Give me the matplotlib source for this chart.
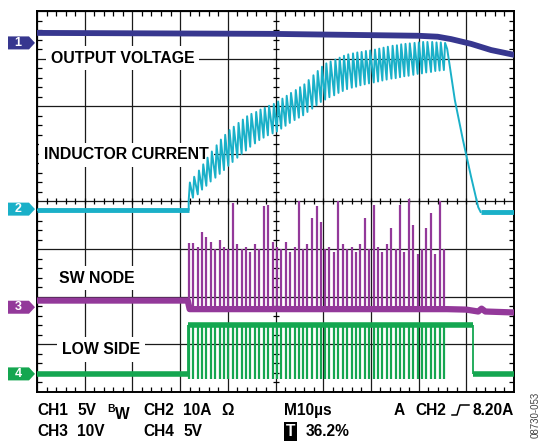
import numpy as np
import matplotlib.pyplot as plt
from matplotlib.patches import Polygon
from matplotlib.lines import Line2D
from matplotlib.ticker import MultipleLocator
from matplotlib.transforms import blended_transform_factory

plt.rcParams['font.family'] = ['Liberation Sans', 'DejaVu Sans']

# scope screen: 10 div x 10 us, 8 div vertical (centre = 0)
W, H = 542, 441

# channel reference markers (div) and colours
marker_level = [3.33, -0.16, -2.22, -3.62]
marker_name = ['1', '2', '3', '4']
colors = ['#37378f', '#1ab0c8', '#93399a', '#14a650']

# CH1 output voltage (div)
vout_t = [0, 49.0, 79.9, 84.0, 86.8, 91.0, 95.2, 100]
vout_v = [3.54, 3.52, 3.48, 3.46, 3.41, 3.31, 3.18, 3.08]

# switching instants (us)
sw_t = [31.8, 32.7, 33.7, 34.6, 35.5, 36.4, 37.4, 38.3, 39.2, 40.1,
        41.0, 42.0, 42.9, 43.8, 44.7, 45.7, 46.6, 47.5, 48.4, 49.4,
        50.3, 51.2, 52.1, 53.0, 54.0, 54.9, 55.8, 56.7, 57.7, 58.6,
        59.5, 60.4, 61.3, 62.3, 63.2, 64.1, 65.0, 66.0, 66.9, 67.8,
        68.7, 69.6, 70.6, 71.5, 72.4, 73.3, 74.3, 75.2, 76.1, 77.0,
        77.9, 78.9, 79.8, 80.7, 81.6, 82.6, 83.5, 84.4, 85.3]

# CH2 inductor current, valley / peak of each cycle (div)
il_valley = [0.02, 0.08, 0.15, 0.25, 0.33, 0.42, 0.50, 0.58, 0.66, 0.75,
             0.83, 0.92, 1.00, 1.07, 1.15, 1.22, 1.29, 1.34, 1.39, 1.43,
             1.47, 1.53, 1.59, 1.65, 1.71, 1.76, 1.81, 1.88, 1.95, 2.02,
             2.09, 2.14, 2.19, 2.23, 2.28, 2.32, 2.36, 2.39, 2.41, 2.44,
             2.46, 2.48, 2.50, 2.52, 2.54, 2.56, 2.58, 2.59, 2.61, 2.63,
             2.64, 2.66, 2.68, 2.69, 2.71, 2.72, 2.74, 2.75, 2.76]
il_peak = [0.40, 0.52, 0.65, 0.78, 0.92, 1.05, 1.18, 1.30, 1.40, 1.50,
           1.57, 1.65, 1.72, 1.79, 1.84, 1.88, 1.93, 1.97, 2.01, 2.05,
           2.10, 2.16, 2.22, 2.28, 2.34, 2.40, 2.46, 2.55, 2.65, 2.74,
           2.83, 2.90, 2.94, 2.98, 3.02, 3.06, 3.09, 3.11, 3.13, 3.14,
           3.16, 3.17, 3.19, 3.21, 3.23, 3.25, 3.27, 3.28, 3.30, 3.31,
           3.32, 3.33, 3.34, 3.35, 3.35, 3.35, 3.34, 3.34, 3.33]
il_pre = -0.18
il_tail_t = [86.0, 87.6, 89.3, 91.0, 92.5, 93.0, 100]
il_tail_v = [3.20, 2.13, 1.29, 0.52, -0.12, -0.22, -0.22]
t_rise = 0.25

# CH3 switch node (div)
sw_top = [-0.87, -0.87, -0.95, -0.64, -0.75, -0.85, -1.00, -0.80, -0.95, -1.00,
          -0.03, -0.90, -1.00, -0.95, -1.05, -0.90, -1.00, -0.10, -0.08, -0.85,
          -0.95, -1.00, -0.85, -1.05, -0.95, 0.00, -1.00, -0.90, -0.35, -0.10,
          -0.43, -1.00, -0.95, -1.05, 0.00, -0.90, -1.00, -0.95, -1.05, -0.90,
          -0.35, -1.00, -0.08, -0.95, -1.05, -0.90, -0.56, -1.00, -0.08, -1.05,
          0.05, -0.50, -1.10, -1.00, -0.56, -0.25, -1.10, 0.00, -1.00]
swn_t = [0, 31.6, 32.0, 86.0, 90.0, 92.5, 93.2, 94.0, 100]
swn_v = [-2.08, -2.08, -2.26, -2.26, -2.27, -2.31, -2.25, -2.31, -2.33]

# CH4 low side gate (div)
ls_low = -3.62
ls_high = -2.60
ls_dip = -3.72
ls_on, ls_off = 31.7, 91.4

fig = plt.figure(figsize=(W / 100, H / 100), dpi=100)
ax = fig.add_axes([37 / W, 1 - 392 / H, 477 / W, 381 / H])
ax.set_xlim(0, 100)
ax.set_ylim(-4, 4)
ax.xaxis.set_major_locator(MultipleLocator(10))
ax.yaxis.set_major_locator(MultipleLocator(1))
ax.xaxis.set_minor_locator(MultipleLocator(2))
ax.yaxis.set_minor_locator(MultipleLocator(0.2))
ax.tick_params(which='both', labelbottom=False, labelleft=False,
               direction='in', top=True, right=True, color='k', width=0.9)
ax.tick_params(which='major', length=0)
ax.tick_params(which='minor', length=3.5)
ax.set_axisbelow(True)
ax.grid(which='major', color='#1a1a1a', lw=0.9)
for s in ax.spines.values():
    s.set_linewidth(1.4)

# ticks along the centre cross
mx = np.arange(0, 100.1, 2)
my = np.arange(-4, 4.01, 0.2)
ax.plot(mx, np.zeros_like(mx), ls='none', marker='|', ms=5, mew=0.9, color='k', zorder=1)
ax.plot(np.full_like(my, 50), my, ls='none', marker='_', ms=5, mew=0.9, color='k', zorder=1)

# trace labels
lab = dict(fontsize=11.4, fontweight='bold', va='center', ha='left', zorder=3,
           bbox=dict(facecolor='white', edgecolor='none', boxstyle='square,pad=0.3'))
ax.text(2.9, 3.01, 'OUTPUT VOLTAGE', **lab)
ax.text(1.5, 0.98, 'INDUCTOR CURRENT', **lab)
ax.text(4.6, -1.61, 'SW NODE', **lab)
ax.text(5.2, -3.11, 'LOW SIDE', **lab)

# CH4
c4 = colors[3]
ax.plot([0, ls_on], [ls_low, ls_low], color=c4, lw=4, solid_capstyle='butt', zorder=4)
ax.plot([ls_on, ls_off], [ls_high, ls_high], color=c4, lw=4, solid_capstyle='butt', zorder=4)
ax.plot([ls_off, 100], [ls_low, ls_low], color=c4, lw=4, solid_capstyle='butt', zorder=4)
ax.vlines([ls_on, ls_off], ls_low, ls_high, color=c4, lw=1.3, zorder=4)
ax.vlines(sw_t, ls_dip, ls_high, color=c4, lw=1.6, zorder=4)

# CH3
c3 = colors[2]
ax.plot(swn_t, swn_v, color=c3, lw=4.5, zorder=5)
ax.vlines(sw_t, swn_v[2], sw_top, color=c3, lw=1.6, zorder=5)

# CH2
c2 = colors[1]
il_t = [0, sw_t[0]]
il_v = [il_pre, il_pre]
for i in range(len(sw_t)):
    il_t += [sw_t[i], sw_t[i] + t_rise]
    il_v += [il_valley[i], il_peak[i]]
il_t += il_tail_t[:-1]
il_v += il_tail_v[:-1]
ax.plot(il_t, il_v, color=c2, lw=1.4, zorder=6)
ax.plot([0, sw_t[0]], [il_pre, il_pre], color=c2, lw=3.5, solid_capstyle='butt', zorder=6)
ax.plot(il_tail_t[-2:], il_tail_v[-2:], color=c2, lw=3.5, solid_capstyle='butt', zorder=6)

# CH1
ax.plot(vout_t, vout_v, color=colors[0], lw=4.2, zorder=7)

# channel markers on the left
tr = blended_transform_factory(ax.transAxes, ax.transData)
hh = 6.5 / 47.6
for lvl, name, c in zip(marker_level, marker_name, colors):
    pts = [(-0.0608, lvl - hh), (-0.0168, lvl - hh), (-0.0042, lvl),
           (-0.0168, lvl + hh), (-0.0608, lvl + hh)]
    ax.add_patch(Polygon(pts, closed=True, facecolor=c, edgecolor='none',
                         transform=tr, clip_on=False))
    ax.text(-0.040, lvl, name, transform=tr, color='white', fontsize=9,
            fontweight='bold', ha='center', va='center', clip_on=False)

# readout below the screen
def ftext(px, py, s, **kw):
    opts = dict(fontsize=11.2, fontweight='bold', va='baseline', ha='left')
    opts.update(kw)
    fig.text(px / W, 1 - py / H, s, **opts)

ftext(37, 415, 'CH1')
ftext(77, 415, '5V')
ftext(107, 412, 'B', fontsize=7.5)
ftext(115, 419, 'W')
ftext(143, 415, 'CH2')
ftext(183, 415, '10A')
ftext(221, 415, 'Ω')
ftext(284, 415, 'M10µs')
ftext(394, 415, 'A')
ftext(415, 415, 'CH2')
ftext(514, 415, '8.20A', ha='right')
ftext(37, 436, 'CH3')
ftext(77, 436, '10V')
ftext(143, 436, 'CH4')
ftext(183, 436, '5V')
ftext(286, 436, 'T', color='white',
      bbox=dict(facecolor='black', edgecolor='none', boxstyle='square,pad=0.1'))
ftext(306, 436, '36.2%')
edge = [(452, 415), (457, 415), (460, 405), (469, 405)]
fig.add_artist(Line2D([p[0] / W for p in edge], [1 - p[1] / H for p in edge],
                      transform=fig.transFigure, color='k', lw=1.1))
fig.text(536 / W, 1 - 392 / H, '08730-053', rotation=90, fontsize=7,
         color='#444444', ha='center', va='top')

fig.savefig('out.png', dpi=100)
